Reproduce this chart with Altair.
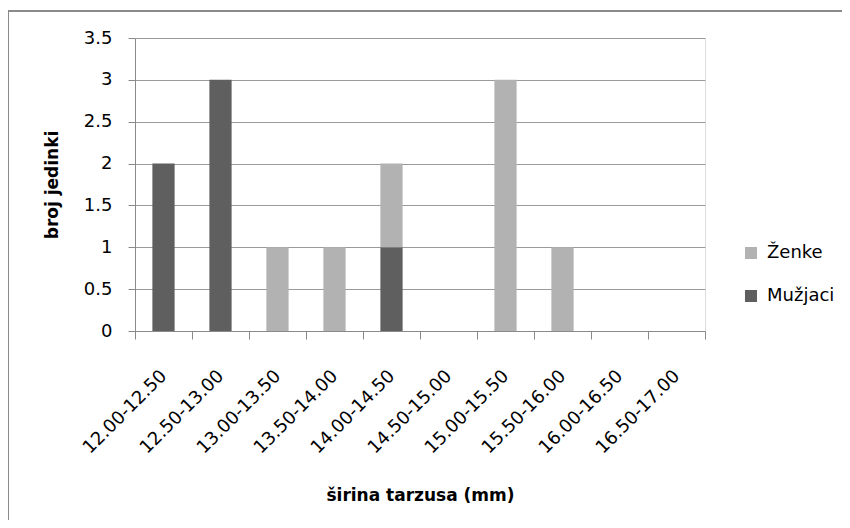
import altair as alt
import pandas as pd

categories = ["12.00-12.50", "12.50-13.00", "13.00-13.50", "13.50-14.00", "14.00-14.50",
              "14.50-15.00", "15.00-15.50", "15.50-16.00", "16.00-16.50", "16.50-17.00"]
zenke = [0, 0, 1, 1, 1, 0, 3, 1, 0, 0]
muzjaci = [2, 3, 0, 0, 1, 0, 0, 0, 0, 0]
series = ["Ženke", "Mužjaci"]
series_colors = ["#b2b2b2", "#5f5f5f"]
y_ticks = [0, 0.5, 1, 1.5, 2, 2.5, 3, 3.5]

rows = []
for c, z, m in zip(categories, zenke, muzjaci):
    rows.append({"kat": c, "spol": "Mužjaci", "n": m, "ord": 0})
    rows.append({"kat": c, "spol": "Ženke", "n": z, "ord": 1})
df = pd.DataFrame(rows)

FONT = "DejaVu Sans"
W, H = 570, 293

bars = alt.Chart(df).mark_bar(width=alt.RelativeBandSize(0.39)).encode(
    x=alt.X("kat:N", sort=categories,
            scale=alt.Scale(paddingInner=0, paddingOuter=0),
            axis=alt.Axis(title="širina tarzusa (mm)", labelAngle=315, labelAlign="right",
                          labelBaseline="middle", labelPadding=34, tickSize=8,
                          tickBand="extent", tickColor="#8a8a8a", domainColor="#8a8a8a",
                          labelFont=FONT, labelFontSize=18, labelColor="#000000",
                          titleFont=FONT, titleFontSize=17, titleFontWeight="bold",
                          titleColor="#000000", titleX=W / 2, titleY=164,
                          titleBaseline="middle", titleAlign="center", grid=False)),
    y=alt.Y("sum(n):Q", stack="zero",
            scale=alt.Scale(domain=[0, 3.5], nice=False),
            axis=alt.Axis(title="broj jedinki", values=y_ticks, labelExpr="'' + datum.value",
                          tickSize=7, labelPadding=16, tickColor="#8a8a8a",
                          domainColor="#8a8a8a", gridColor="#9a9a9a",
                          labelFont=FONT, labelFontSize=18, labelColor="#000000",
                          titleFont=FONT, titleFontSize=17, titleFontWeight="bold",
                          titleColor="#000000", titleAngle=270, titleX=-83, titleY=H / 2,
                          titleBaseline="middle", titleAlign="center")),
    color=alt.Color("spol:N", scale=alt.Scale(domain=series, range=series_colors),
                    legend=alt.Legend(title=None, orient="none", legendX=607, legendY=206,
                                      symbolType="square", symbolSize=144,
                                      symbolStrokeWidth=0, labelFont=FONT, labelFontSize=18,
                                      labelColor="#000000", rowPadding=25, labelOffset=7,
                                      padding=0)),
    order=alt.Order("ord:Q"),
)

frame = alt.Chart(alt.Data(values=[{}])).mark_rect(
    fill=None, stroke="#8a8a8a", strokeWidth=2
).encode(
    x=alt.value(-127), x2=alt.value(W + 200),
    y=alt.value(-27), y2=alt.value(H + 300),
)

chart = alt.layer(bars, frame).properties(
    width=W, height=H,
    autosize=alt.AutoSizeParams(type="none"),
    padding={"left": 127, "top": 30, "right": 137, "bottom": 189},
).configure_view(stroke=None).configure(background="white")

chart.save("out.html", embed_options={"renderer": "svg", "actions": False})
